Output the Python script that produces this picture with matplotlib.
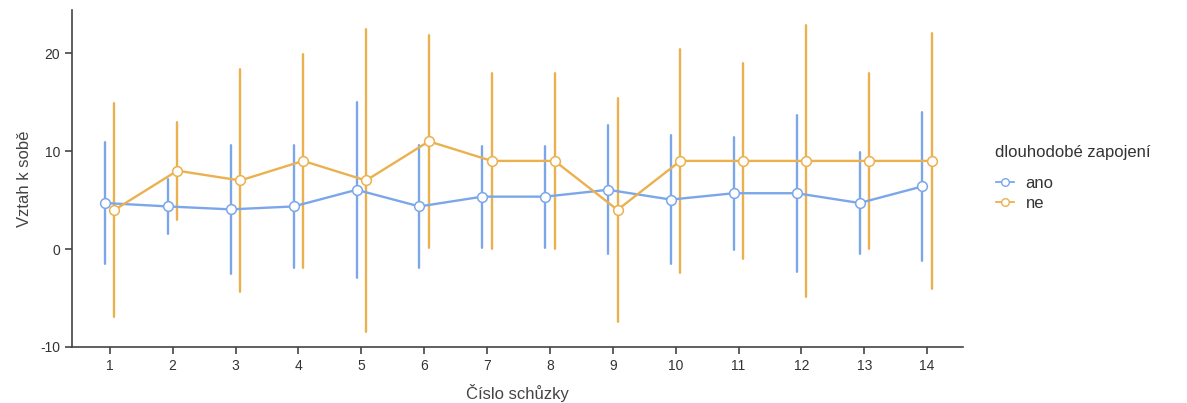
import numpy as np
from matplotlib import pyplot as plt
from matplotlib.lines import Line2D

plt.rcParams['font.family'] = ['Liberation Sans', 'DejaVu Sans']
plt.rcParams['axes.unicode_minus'] = False

sessions = list(range(1, 15))
ano_mean = [4.7, 4.35, 4.05, 4.35, 6.05, 4.35, 5.35, 5.35, 6.05, 5.05, 5.7, 5.7, 4.7, 6.4]
ano_err = [6.25, 2.85, 6.6, 6.25, 9.0, 6.25, 5.2, 5.2, 6.6, 6.6, 5.75, 8.0, 5.2, 7.6]
ne_mean = [4, 8, 7, 9, 7, 11, 9, 9, 4, 9, 9, 9, 9, 9]
ne_err = [10.9, 5.0, 11.4, 10.9, 15.5, 10.9, 9.0, 9.0, 11.4, 11.4, 10.0, 13.9, 9.0, 13.1]

blue = '#7ba7ea'
orange = '#ebb14e'
dodge = 0.075

fig = plt.figure(figsize=(11.87, 4.03), dpi=100)
ax = fig.add_axes([0.0607, 0.139, 0.7506, 0.836])

x = np.array(sessions)
for means, errs, col, shift in [(ano_mean, ano_err, blue, -dodge), (ne_mean, ne_err, orange, dodge)]:
    ax.errorbar(x + shift, means, yerr=errs, color=col, lw=1.7, elinewidth=1.7,
                capsize=1, capthick=1.5, marker='o', ms=7, mfc='white', mec=col, mew=1.1, zorder=3)

ax.set_xlim(0.4, 14.57)
ax.set_ylim(-10, 24.4)
ax.set_xticks(sessions)
ax.set_yticks([-10, 0, 10, 20])
for s in ['top', 'right']:
    ax.spines[s].set_visible(False)
for s in ['left', 'bottom']:
    ax.spines[s].set_color('#444444')
    ax.spines[s].set_linewidth(1.2)
ax.tick_params(colors='#444444', labelcolor='#333333', labelsize=10, length=5, width=1.2)
ax.set_xlabel('Číslo schůzky', fontsize=12, color='#444444', labelpad=8)
ax.set_ylabel('Vztah k sobě', fontsize=12, color='#444444', labelpad=6)

# legend title drawn separately so the gap to the entries matches
fig.text(995 / 1187, 1 - 152 / 403, 'dlouhodobé zapojení', fontsize=12, color='#333333', va='center')
handles = [Line2D([0], [0], color=blue, marker='o', ms=5.5, mfc='white', mec=blue, lw=1.3),
           Line2D([0], [0], color=orange, marker='o', ms=5.5, mfc='white', mec=orange, lw=1.3)]
leg = fig.legend(handles, ['ano', 'ne'], loc='upper left', bbox_to_anchor=(984 / 1187, 1 - 164 / 403),
                 frameon=False, fontsize=12, handlelength=1.1, handletextpad=0.7, labelspacing=0.3,
                 borderpad=0.2)
for t in leg.get_texts():
    t.set_color('#333333')

fig.savefig('out.png', dpi=100)
